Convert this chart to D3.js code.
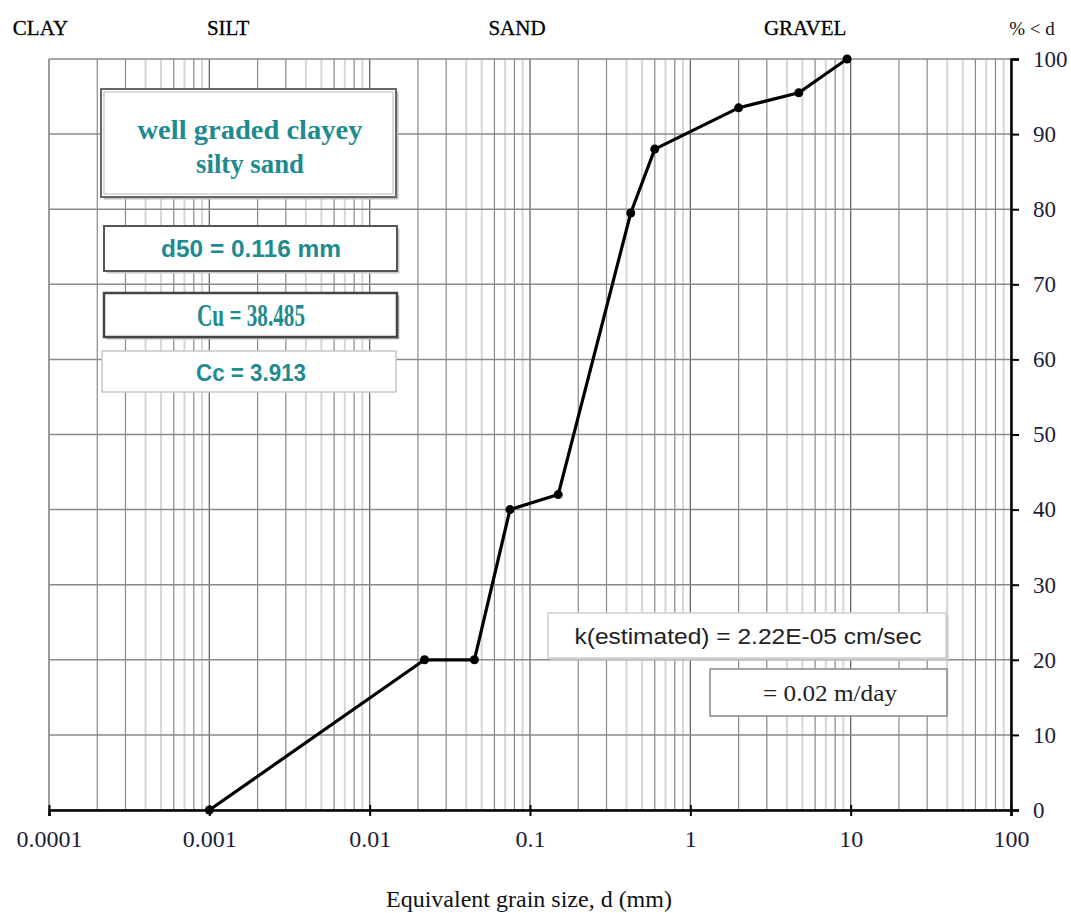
<!DOCTYPE html>
<html><head><meta charset="utf-8">
<script src="https://cdn.jsdelivr.net/npm/d3@7"></script>
<style>body{margin:0;background:#fff}svg{display:block}</style>
</head><body>
<svg id="c" width="1071" height="913"></svg>
<script>
// ---- data ----
const grainSize = [0.001, 0.022, 0.045, 0.075, 0.15, 0.425, 0.6, 2, 4.75, 9.5];
const percentFiner = [0, 20, 20, 40, 42, 79.5, 88, 93.5, 95.5, 100];
const xTicks = [0.0001, 0.001, 0.01, 0.1, 1, 10, 100];
const xTickLabels = ["0.0001", "0.001", "0.01", "0.1", "1", "10", "100"];
const yTicks = [0, 10, 20, 30, 40, 50, 60, 70, 80, 90, 100];
const soilClasses = ["CLAY", "SILT", "SAND", "GRAVEL"];
const soilClassPos = [0.0000885, 0.00131, 0.083, 5.2];
const summaryLines = ["well graded clayey", "silty sand"];
const statsLines = ["d50 = 0.116 mm", "Cu = 38.485", "Cc = 3.913"];
const kLines = ["k(estimated) = 2.22E-05 cm/sec", "= 0.02 m/day"];

const svg = d3.select("#c");
const x = d3.scaleLog().domain([1e-4, 100]).range([49, 1011]);
const y = d3.scaleLinear().domain([0, 100]).range([810, 59]);

// grid
const minor = [];
for (let e = -4; e < 2; e++) for (let m = 2; m <= 9; m++) minor.push(m * Math.pow(10, e));
const light = new Set([2, 3, 5, 7]); // index within decade (m-2)
const g = svg.append("g");
g.selectAll(".vm").data(minor).join("line")
  .attr("x1", d => x(d)).attr("x2", d => x(d)).attr("y1", y(100)).attr("y2", y(0))
  .attr("stroke", (d, i) => light.has(i % 8) ? "#d6d6d6" : "#8a8a8a")
  .attr("stroke-width", (d, i) => light.has(i % 8) ? 2 : 1.2);
g.selectAll(".vM").data(xTicks).join("line")
  .attr("x1", d => x(d)).attr("x2", d => x(d)).attr("y1", y(100)).attr("y2", y(0))
  .attr("stroke", "#666").attr("stroke-width", 1.3);
g.selectAll(".h").data(yTicks).join("line")
  .attr("x1", x(1e-4)).attr("x2", x(100)).attr("y1", d => y(d)).attr("y2", d => y(d))
  .attr("stroke", "#8a8a8a").attr("stroke-width", 1.5);

// axes
const xAxis = d3.axisBottom(x).tickValues(xTicks).tickFormat((d, i) => xTickLabels[i]).tickSize(6).tickPadding(14);
const xa = svg.append("g").attr("transform", `translate(0,${y(0)})`).call(xAxis);
xa.select(".domain").attr("stroke", "#000").attr("stroke-width", 2.5);
xa.selectAll(".tick line").attr("stroke", "#000").attr("stroke-width", 2).attr("y1", -5);
xa.selectAll(".tick text").attr("font-family", "Liberation Serif").attr("font-size", 24).attr("fill", "#1c1c3a");

const yAxis = d3.axisRight(y).tickValues(yTicks).tickSize(8).tickPadding(14);
const ya = svg.append("g").attr("transform", `translate(${x(100)},0)`).call(yAxis);
ya.select(".domain").attr("stroke", "#000").attr("stroke-width", 2.5);
ya.selectAll(".tick line").attr("stroke", "#000").attr("stroke-width", 2);
ya.selectAll(".tick text").attr("font-family", "Liberation Serif").attr("font-size", 23).attr("fill", "#1c1c3a");

// soil class labels
svg.selectAll(".cls").data(soilClasses).join("text")
  .attr("x", (d, i) => x(soilClassPos[i])).attr("y", 35).attr("text-anchor", "middle")
  .attr("font-family", "Liberation Serif").attr("font-size", 21).attr("fill", "#000")
  .attr("stroke", "#000").attr("stroke-width", 0.3)
  .text(d => d);
svg.append("text").attr("x", 1032).attr("y", 35).attr("text-anchor", "middle")
  .attr("font-family", "Liberation Serif").attr("font-size", 19).attr("fill", "#111").text("% < d");

// axis title
svg.append("text").attr("x", 529).attr("y", 907).attr("text-anchor", "middle")
  .attr("font-family", "Liberation Serif").attr("font-size", 24).attr("fill", "#111")
  .text("Equivalent grain size, d (mm)");

// curve
const line = d3.line().x((d, i) => x(grainSize[i])).y((d, i) => y(percentFiner[i]));
svg.append("path").datum(percentFiner).attr("d", line)
  .attr("fill", "none").attr("stroke", "#000").attr("stroke-width", 3.2).attr("stroke-linejoin", "round");
svg.selectAll(".pt").data(percentFiner).join("circle")
  .attr("cx", (d, i) => x(grainSize[i])).attr("cy", d => y(d)).attr("r", 4.5).attr("fill", "#000");

// boxes
function box(x0, y0, w, h, stroke, sw, shadow) {
  if (shadow) svg.append("rect").attr("x", x0 + 2.5).attr("y", y0 + 2.5).attr("width", w).attr("height", h).attr("fill", shadow);
  svg.append("rect").attr("x", x0).attr("y", y0).attr("width", w).attr("height", h)
    .attr("fill", "#fff").attr("stroke", stroke).attr("stroke-width", sw);
}
const teal = "#1e8b91";
box(101, 89, 295, 108, "#666", 2, "#bdbdbd");
svg.append("rect").attr("x", 104).attr("y", 92).attr("width", 289).attr("height", 102).attr("fill", "none").attr("stroke", "#d0d0d0").attr("stroke-width", 1.5);
const sumW = [225, 108];
svg.selectAll(".sum").data(summaryLines).join("text")
  .attr("x", 250).attr("y", (d, i) => 139 + i * 34).attr("text-anchor", "middle")
  .attr("font-family", "Liberation Serif").attr("font-weight", "bold").attr("font-size", 27).attr("fill", teal)
  .attr("textLength", (d, i) => sumW[i]).attr("lengthAdjust", "spacingAndGlyphs")
  .text(d => d);

box(104, 226, 293, 45, "#555", 2, "#c8c8c8");
box(104, 293, 293, 44, "#444", 2.5, "#bbb");
box(102, 351, 294, 41, "#c8c8c8", 1.5, null);
const statY = [257, 326, 381];
const statFont = ["Liberation Sans", "Liberation Serif", "Liberation Sans"];
const statSize = [24, 31, 23];
const statW = [180, 108, 110];
svg.selectAll(".st").data(statsLines).join("text")
  .attr("x", 251).attr("y", (d, i) => statY[i]).attr("text-anchor", "middle")
  .attr("font-family", (d, i) => statFont[i]).attr("font-weight", "bold")
  .attr("font-size", (d, i) => statSize[i]).attr("fill", teal)
  .attr("textLength", (d, i) => statW[i]).attr("lengthAdjust", "spacingAndGlyphs")
  .text(d => d);

box(548, 613, 398, 45, "#d0d0d0", 1.5, "#c8c8c8");
box(710, 669, 237, 47, "#888", 1.5, null);
svg.append("text").attr("x", 748).attr("y", 644).attr("text-anchor", "middle")
  .attr("font-family", "Liberation Sans").attr("font-size", 22).attr("fill", "#222")
  .attr("textLength", 347).attr("lengthAdjust", "spacingAndGlyphs").text(kLines[0]);
svg.append("text").attr("x", 830).attr("y", 701).attr("text-anchor", "middle")
  .attr("font-family", "Liberation Serif").attr("font-size", 23).attr("fill", "#222")
  .attr("textLength", 134).attr("lengthAdjust", "spacingAndGlyphs").text(kLines[1]);
</script>
</body></html>
